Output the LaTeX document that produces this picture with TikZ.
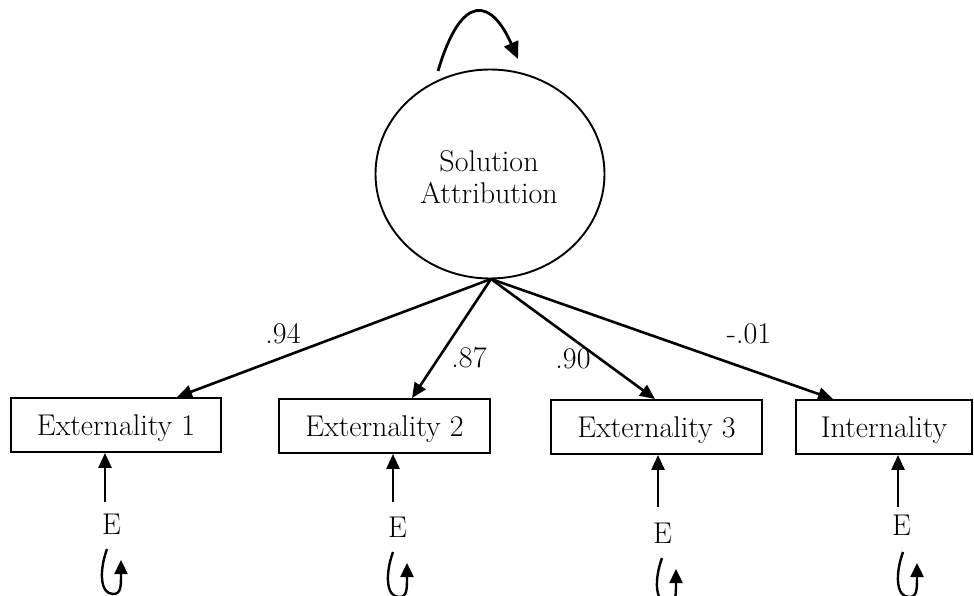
\documentclass[tikz,border=0pt]{standalone}
\usetikzlibrary{arrows.meta,shapes.geometric}
\begin{document}
\begin{tikzpicture}[x=1pt,y=-1pt,
  txt/.style={font=\fontsize{30}{34}\selectfont, inner sep=0pt},
  obs/.style={draw, line width=1.9pt, rectangle, minimum height=54pt, inner sep=0pt,
    font=\fontsize{30}{34}\selectfont, text height=20pt, text depth=0pt},
  lat/.style={draw, line width=1.9pt, ellipse, minimum width=229pt, minimum height=209pt, inner sep=0pt},
  arr/.style={line width=2.6pt, -{Triangle[length=15pt,width=13pt]}},
  toparr/.style={line width=2.8pt, -{Triangle[length=17pt,width=15pt]}},
  eloop/.pic={\draw[line width=2.4pt, -{Triangle[length=14pt,width=13pt]}]
     (0,0) .. controls (-8,22) and (-7,45) .. (6,45) .. controls (14,45) and (14,38) .. (14,11);}
]
\useasboundingbox (0,0) rectangle (974,596);

% latent variable
\node[lat] (sa) at (490,174) {};
\node[txt, anchor=base] (sa1) at (489,172) {Solution};
\node[txt, anchor=base] (sa2) at (489,204) {Attribution};
\coordinate (ls) at (438,71);
\coordinate (le) at (518,59);
\draw[toparr] (ls) .. controls (462,-10) and (492,0) .. (le);

% observed variables
\node[obs, minimum width=210pt] (b1) at (116,425) {Externality 1};
\node[obs, minimum width=211pt] (b2) at (384.5,426) {Externality 2};
\node[obs, minimum width=211pt] (b3) at (656.5,427) {Externality 3};
\node[obs, minimum width=176pt] (b4) at (884,427) {Internality};

% loadings
\coordinate (o) at (491,279);
\coordinate (p1) at (177,0);
\coordinate (p2) at (412,0);
\coordinate (p3) at (655,0);
\coordinate (p4) at (833,0);
\draw[arr] (o) -- (b1.north -| p1);
\draw[arr] (o) -- (b2.north -| p2);
\draw[arr] (o) -- (b3.north -| p3);
\draw[arr] (o) -- (b4.north -| p4);
\node[txt, anchor=base] (l1) at (283,343) {.94};
\node[txt, anchor=base] (l2) at (469,367) {.87};
\node[txt, anchor=base] (l3) at (573,368) {.90};
\node[txt, anchor=base] (l4) at (749,343) {-.01};

% errors
\node[txt, anchor=base] (e1) at (111.5,534) {E};
\node[txt, anchor=base] (e2) at (397.5,537) {E};
\node[txt, anchor=base] (e3) at (662.5,543) {E};
\node[txt, anchor=base] (e4) at (901.5,535) {E};
\coordinate (t1) at (105,502);
\coordinate (t2) at (393,502);
\coordinate (t3) at (658,507);
\coordinate (t4) at (898,507);
\draw[arr] (t1) -- (t1 |- b1.south);
\draw[arr] (t2) -- (t2 |- b2.south);
\draw[arr] (t3) -- (t3 |- b3.south);
\draw[arr] (t4) -- (t4 |- b4.south);
\pic at (107,549) {eloop};
\pic at (393,552) {eloop};
\pic at (662,558) {eloop};
\pic at (903,552) {eloop};
\end{tikzpicture}
\end{document}
